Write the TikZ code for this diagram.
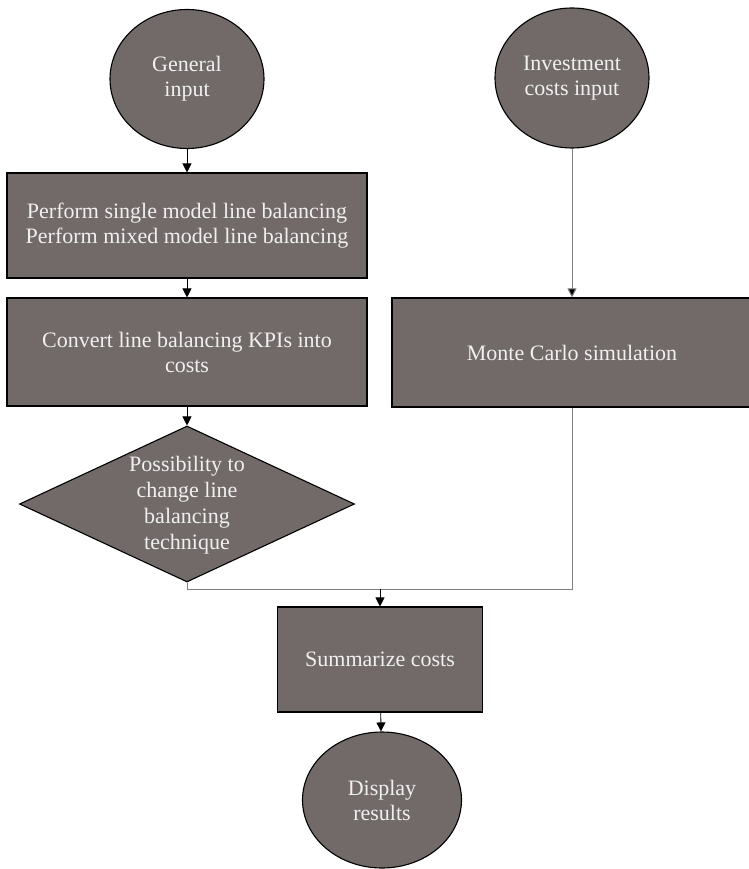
\documentclass[tikz,border=0pt]{standalone}
\usepackage{fontspec}
\setmainfont{Liberation Serif}
\usetikzlibrary{shapes.geometric,arrows.meta}
\definecolor{boxfill}{RGB}{114,106,104}
\definecolor{linegray}{RGB}{125,125,125}
\begin{document}
\begin{tikzpicture}[x=1pt,y=-1pt,
  base/.style={draw=black,line width=1.1pt,fill=boxfill,text=white!94!black,font=\fontsize{22}{25}\selectfont,align=center,inner sep=0pt},
  oval/.style={base,ellipse},
  stepbox/.style={base,rectangle},
  decision/.style={base,diamond},
  arr/.style={draw=black,line width=0.8pt,-{Triangle[length=9pt,width=9pt]}},
  garr/.style={draw=linegray,line width=1pt,-{Triangle[length=9pt,width=9pt,fill=black]}},
  gline/.style={draw=linegray,line width=1pt}]
\useasboundingbox (0,0) rectangle (748,869);
\node[oval,minimum width=154pt,minimum height=139pt] (gen) at (187,79) {General\\input};
\node[oval,minimum width=154pt,minimum height=140pt] (inv) at (572,78) {Investment\\costs input};
\node[stepbox,minimum width=360pt,minimum height=105pt] (b1) at (187,225.5) {Perform single model line balancing\\Perform mixed model line balancing};
\node[stepbox,minimum width=360pt,minimum height=108pt] (b2) at (187,352) {Convert line balancing KPIs into\\costs};
\node[stepbox,minimum width=360pt,minimum height=109pt] (mc) at (572,352.5) {Monte Carlo simulation};
\node[decision,minimum width=335pt,minimum height=156pt,aspect=2.15] (dec) at (187,504) {};
\node[text=white!94!black,font=\fontsize{22}{26}\selectfont,align=center] (dectext) at (187,505) {Possibility to\\change line\\balancing\\technique};
\node[stepbox,minimum width=205pt,minimum height=105pt] (sum) at (380,659.5) {Summarize costs};
\node[oval,minimum width=159pt,minimum height=136pt] (disp) at (382,800) {Display\\results};
\coordinate (j1) at (187,589);
\coordinate (j2) at (572,589);
\coordinate (jm) at (380,589);
\draw[arr] (gen) -- (b1);
\draw[arr] (b1) -- (b2);
\draw[arr] (b2) -- (dec);
\draw[garr] (inv) -- (mc);
\draw[gline] (dec.south) -- (j1) -- (j2) -- (mc.south);
\draw[arr] (jm) -- (sum);
\draw[arr] (sum) -- (disp);
\end{tikzpicture}
\end{document}
